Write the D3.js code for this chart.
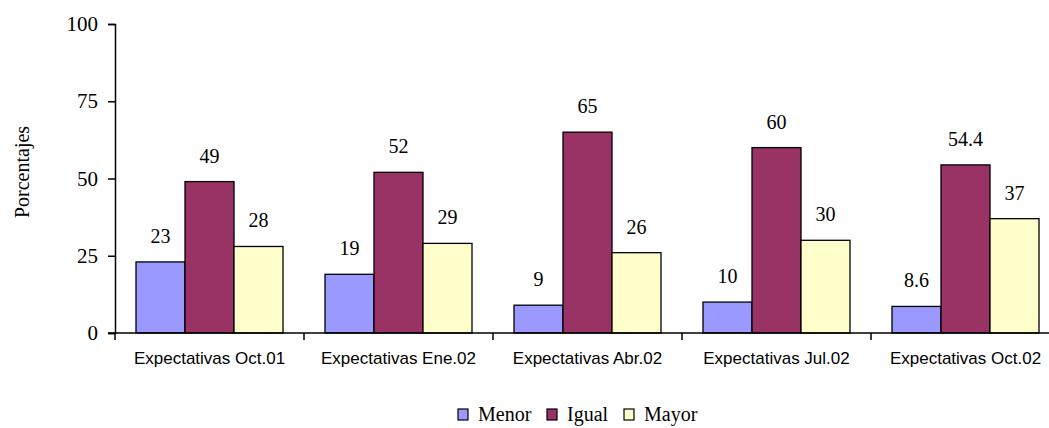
<!DOCTYPE html>
<html>
<head>
<meta charset="utf-8">
<script src="https://cdn.jsdelivr.net/npm/d3@7"></script>
<style>
  body { margin: 0; background: #fff; }
  svg { display: block; }
</style>
</head>
<body>
<div id="chart-area"></div>
<script>
const categories = ["Expectativas Oct.01", "Expectativas Ene.02", "Expectativas Abr.02", "Expectativas Jul.02", "Expectativas Oct.02"];
const seriesNames = ["Menor", "Igual", "Mayor"];
const menor = [23, 19, 9, 10, 8.6];
const igual = [49, 52, 65, 60, 54.4];
const mayor = [28, 29, 26, 30, 37];
const yTicks = [0, 25, 50, 75, 100];
const colors = ["#9999FF", "#993366", "#FFFFCC"];

const series = [menor, igual, mayor];
const data = categories.map((c, i) => ({
    cat: c,
    vals: series.map((s, j) => ({ name: seriesNames[j], value: s[i], idx: j }))
}));

const serif = "'Liberation Serif', 'DejaVu Serif', serif";
const sans = "'Liberation Sans', Arial, sans-serif";

const svg = d3.select("#chart-area")
    .append("svg")
    .attr("width", 1049)
    .attr("height", 428);

// one band per category, bars sit inside with a 21px gap each side
const band = d3.scaleBand()
    .domain(categories)
    .range([115, 1060]);

const xs = d3.scaleBand()
    .domain(seriesNames)
    .range([0, band.bandwidth() - 42]);

const y = d3.scaleLinear()
    .domain([0, 100])
    .range([333, 24]);

// y axis
const yAxis = svg.append("g")
    .attr("transform", "translate(115,0)")
    .call(d3.axisLeft(y).tickValues(yTicks).tickSize(7).tickPadding(10));
yAxis.select(".domain").attr("stroke", "#000").attr("stroke-width", 1.5);
yAxis.selectAll(".tick line").attr("stroke", "#000").attr("stroke-width", 1.5);
yAxis.selectAll(".tick text")
    .attr("font-family", serif)
    .attr("font-size", "21px")
    .attr("fill", "#000");

svg.append("text")
    .attr("transform", "translate(29,172) rotate(-90)")
    .attr("text-anchor", "middle")
    .attr("font-family", serif)
    .attr("font-size", "20px")
    .text("Porcentajes");

// bars
const groups = svg.selectAll("g.cat")
    .data(data)
    .enter()
    .append("g")
    .attr("class", "cat")
    .attr("transform", d => `translate(${band(d.cat) + 21},0)`);

groups.selectAll("rect")
    .data(d => d.vals)
    .enter()
    .append("rect")
    .attr("x", d => xs(d.name))
    .attr("y", d => y(d.value))
    .attr("width", xs.bandwidth())
    .attr("height", d => y(0) - y(d.value))
    .attr("fill", d => colors[d.idx])
    .attr("stroke", "#000")
    .attr("stroke-width", 1.3);

groups.selectAll("text")
    .data(d => d.vals)
    .enter()
    .append("text")
    .attr("x", d => xs(d.name) + xs.bandwidth() / 2)
    .attr("y", d => y(d.value) - 19)
    .attr("text-anchor", "middle")
    .attr("font-family", serif)
    .attr("font-size", "20px")
    .text(d => d.value);

// x axis
const xAxis = svg.append("g")
    .attr("transform", "translate(0,333)");
xAxis.append("line")
    .attr("x1", 108).attr("x2", 1060)
    .attr("stroke", "#000").attr("stroke-width", 1.5);
xAxis.selectAll("line.tick")
    .data(categories.concat(["end"]))
    .enter()
    .append("line")
    .attr("class", "tick")
    .attr("x1", (d, i) => i < categories.length ? band(d) : band.range()[1])
    .attr("x2", (d, i) => i < categories.length ? band(d) : band.range()[1])
    .attr("y1", 0).attr("y2", 7)
    .attr("stroke", "#000").attr("stroke-width", 1.5);
xAxis.selectAll("text")
    .data(categories)
    .enter()
    .append("text")
    .attr("x", d => band(d) + band.bandwidth() / 2)
    .attr("y", 31)
    .attr("text-anchor", "middle")
    .attr("font-family", sans)
    .attr("font-size", "17px")
    .text(d => d);

// legend
const legend = svg.append("g").attr("transform", "translate(458,409)");
const legendX = [0, 89, 166];
const items = legend.selectAll("g")
    .data(seriesNames)
    .enter()
    .append("g")
    .attr("transform", (d, i) => `translate(${legendX[i]},0)`);
items.append("rect")
    .attr("width", 10).attr("height", 11)
    .attr("fill", (d, i) => colors[i])
    .attr("stroke", "#000").attr("stroke-width", 1.2);
items.append("text")
    .attr("x", 20).attr("y", 12)
    .attr("font-family", serif)
    .attr("font-size", "20px")
    .text(d => d);
</script>
</body>
</html>
